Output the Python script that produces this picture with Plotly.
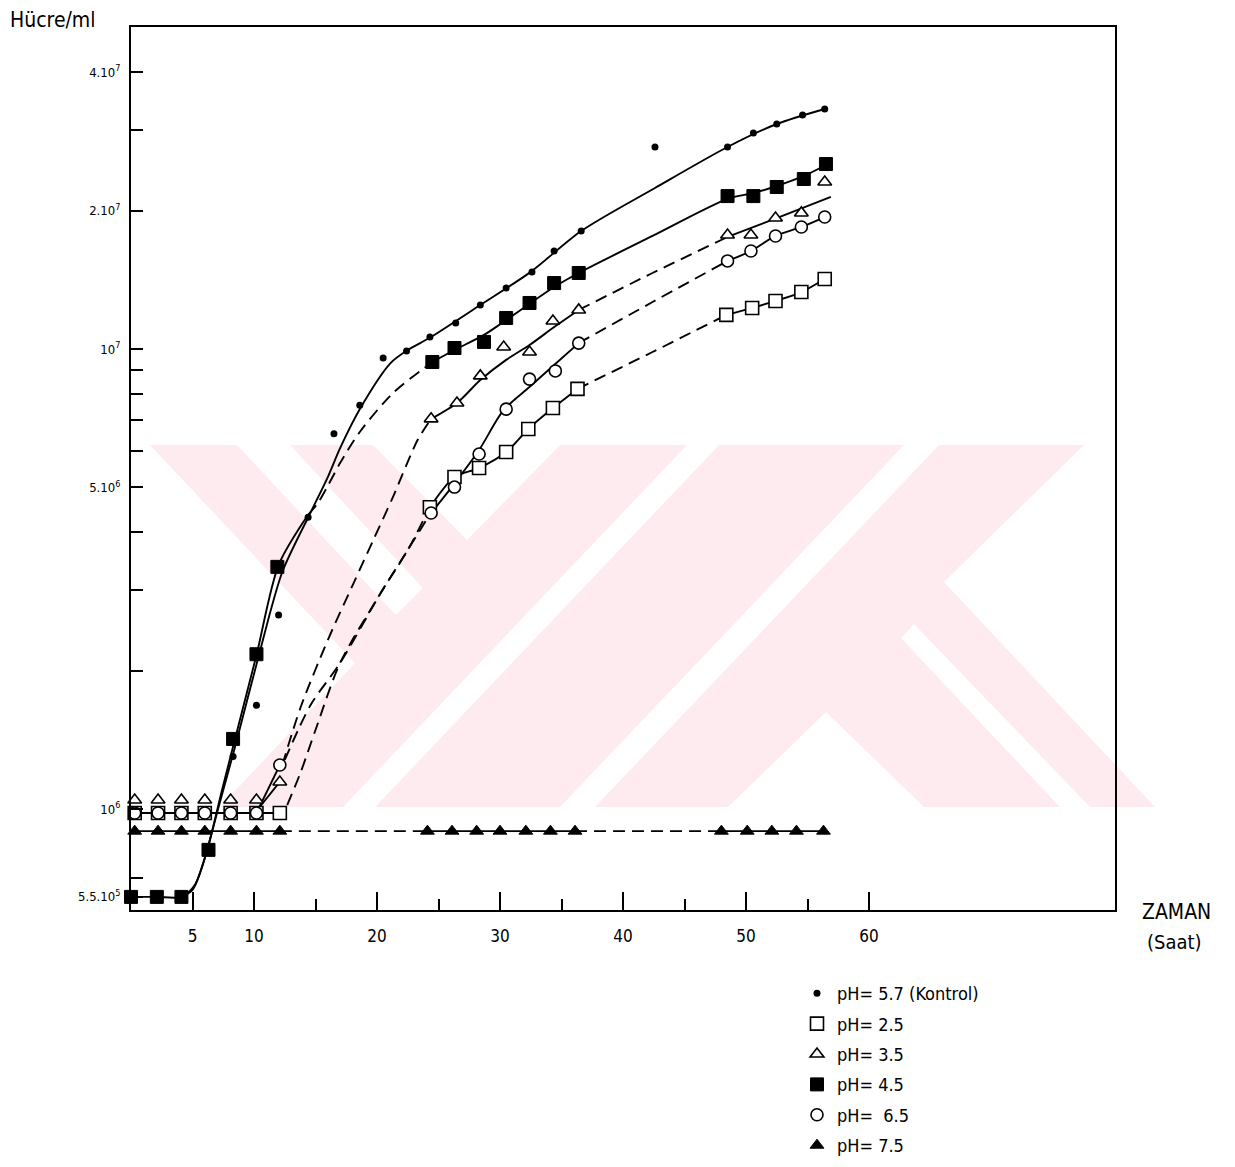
import plotly.graph_objects as go

# ---------------- data ----------------
# marker data : time (Saat) and cell count (Hücre/ml)
ph57_x = [0, 2.1, 4.1, 8.3, 10.2, 12.0, 14.4, 16.5, 18.6, 20.5, 22.4, 24.3, 26.4, 28.4,
          30.5, 32.6, 34.4, 36.6, 42.6, 48.5, 50.6, 52.5, 54.6, 56.4]
ph57_y = [6.44e5, 6.44e5, 6.44e5, 1.30e6, 1.68e6, 2.64e6, 4.31e6, 6.54e6, 7.55e6, 9.56e6,
          9.90e6, 1.062e7, 1.139e7, 1.246e7, 1.357e7, 1.471e7, 1.633e7, 1.805e7, 2.749e7,
          2.749e7, 2.948e7, 3.084e7, 3.226e7, 3.325e7]

ph25_x = [0.3, 2.2, 4.1, 6.0, 8.1, 10.2, 12.1, 24.3, 26.3, 28.3, 30.5, 32.3, 34.3, 36.3,
          48.4, 50.5, 52.4, 54.5, 56.4]
ph25_y = [9.8e5, 9.8e5, 9.8e5, 9.8e5, 9.8e5, 9.8e5, 9.8e5, 4.53e6, 5.27e6, 5.51e6, 5.97e6,
          6.70e6, 7.44e6, 8.19e6, 1.186e7, 1.228e7, 1.272e7, 1.330e7, 1.420e7]

ph35_x = [0.3, 2.2, 4.1, 6.0, 8.1, 10.2, 12.1, 24.4, 26.5, 28.4, 30.3, 32.4, 34.3, 36.4,
          48.5, 50.4, 52.4, 54.5, 56.4]
ph35_y = [1.046e6, 1.046e6, 1.046e6, 1.046e6, 1.046e6, 1.046e6, 1.145e6, 7.05e6, 7.63e6,
          8.74e6, 1.010e7, 9.85e6, 1.150e7, 1.216e7, 1.769e7, 1.769e7, 1.927e7, 1.976e7, 2.307e7]

ph45_x = [0, 2.1, 4.1, 6.3, 8.3, 10.2, 11.9, 24.5, 26.3, 28.7, 30.5, 32.4, 34.4, 36.4,
          48.5, 50.6, 52.5, 54.7, 56.5]
ph45_y = [6.44e5, 6.44e5, 6.44e5, 8.15e5, 1.42e6, 2.17e6, 3.36e6, 9.37e6, 1.005e7, 1.036e7,
          1.168e7, 1.259e7, 1.391e7, 1.463e7, 2.150e7, 2.150e7, 2.250e7, 2.342e7, 2.524e7]

ph65_x = [0.3, 2.2, 4.1, 6.0, 8.1, 10.2, 12.1, 24.4, 26.3, 28.3, 30.5, 32.4, 34.5, 36.4,
          48.5, 50.4, 52.4, 54.5, 56.4]
ph65_y = [9.8e5, 9.8e5, 9.8e5, 9.8e5, 9.8e5, 9.8e5, 1.246e6, 4.40e6, 5.01e6, 5.91e6, 7.40e6,
          8.60e6, 8.96e6, 1.030e7, 1.554e7, 1.633e7, 1.761e7, 1.842e7, 1.936e7]

ph75_x = [0.3, 2.2, 4.1, 6.0, 8.1, 10.2, 12.1, 24.1, 26.1, 28.1, 30.0, 32.1, 34.1, 36.1,
          48.0, 50.1, 52.1, 54.1, 56.3]
ph75_y = [8.95e5] * 19

# hand-drawn fitted curves (solid / dashed pieces)
fit57_x = [4.1, 5.0, 5.9, 7.1, 8.5, 10.4, 12.3, 14.5, 16.0, 17.0, 18.7, 21.1, 22.5, 24.4,
           28.4, 32.5, 36.6, 42.6, 48.5, 52.5, 56.4]
fit57_y = [6.44e5, 6.67e5, 7.67e5, 1.005e6, 1.378e6, 2.161e6, 3.275e6, 4.356e6, 5.268e6,
           6.09e6, 7.48e6, 9.32e6, 9.95e6, 1.062e7, 1.246e7, 1.471e7, 1.805e7, 2.239e7,
           2.749e7, 3.084e7, 3.325e7]

fit45_s1_x = [0, 2.1, 4.1, 5.2, 6.2, 7.4, 8.4, 10.2, 12.0, 14.4]
fit45_s1_y = [6.44e5, 6.44e5, 6.44e5, 6.84e5, 8.15e5, 1.10e6, 1.40e6, 2.16e6, 3.39e6, 4.36e6]
fit45_d1_x = [14.4, 15.2, 16.0, 17.0, 18.6, 21.3, 24.5]
fit45_d1_y = [4.36e6, 4.63e6, 5.04e6, 5.65e6, 6.60e6, 8.02e6, 9.37e6]
fit45_s2_x = [24.5, 26.3, 28.7, 30.5, 32.5, 34.4, 36.4, 42.4, 48.5, 50.6, 52.5, 54.7, 56.5]
fit45_s2_y = [9.37e6, 9.95e6, 1.073e7, 1.156e7, 1.259e7, 1.364e7, 1.463e7, 1.761e7,
              2.12e7, 2.183e7, 2.261e7, 2.378e7, 2.512e7]

fit35_s1_x = [10.2, 12.1]
fit35_s1_y = [9.9e5, 1.145e6]
fit35_d1_x = [12.3, 13.8, 16.0, 18.1, 19.7, 21.3, 23.3, 24.4]
fit35_d1_y = [1.246e6, 1.666e6, 2.330e6, 3.099e6, 3.844e6, 4.768e6, 6.34e6, 7.045e6]
fit35_s2_x = [24.4, 26.5, 28.4, 30.5, 32.4, 34.4, 36.4]
fit35_s2_y = [7.045e6, 7.63e6, 8.56e6, 9.47e6, 1.020e7, 1.116e7, 1.216e7]
fit35_d2_x = [36.4, 42.4, 48.5]
fit35_d2_y = [1.216e7, 1.463e7, 1.752e7]
fit35_s3_x = [48.5, 52.7, 56.9]
fit35_s3_y = [1.752e7, 1.936e7, 2.141e7]

fit65_s1_x = [10.2, 12.1]
fit65_s1_y = [9.8e5, 1.246e6]
fit65_d1_x = [12.5, 14.6, 17.0, 20.3, 22.5, 24.4]
fit65_d1_y = [1.278e6, 1.683e6, 2.077e6, 2.948e6, 3.656e6, 4.42e6]
fit65_s2_x = [24.4, 26.2, 28.3, 30.3, 32.4, 34.4, 36.4]
fit65_s2_y = [4.40e6, 5.06e6, 6.03e6, 7.37e6, 8.27e6, 9.23e6, 1.030e7]
fit65_d2_x = [36.4, 42.4, 48.5]
fit65_d2_y = [1.030e7, 1.265e7, 1.554e7]
fit65_s3_x = [48.5, 50.4, 52.4, 54.5, 56.4]
fit65_s3_y = [1.554e7, 1.633e7, 1.761e7, 1.842e7, 1.936e7]

fit25_s1_x = [0.3, 12.1]
fit25_s1_y = [9.8e5, 9.8e5]
fit25_d1_x = [12.7, 13.8, 15.0, 17.0, 20.3, 22.5, 24.3]
fit25_d1_y = [1.020e6, 1.203e6, 1.485e6, 2.077e6, 2.948e6, 3.656e6, 4.534e6]
fit25_s2_x = [24.3, 26.3, 28.3, 30.5, 32.3, 34.3, 36.3]
fit25_s2_y = [4.53e6, 5.27e6, 5.51e6, 5.97e6, 6.70e6, 7.44e6, 8.19e6]
fit25_d2_x = [36.3, 42.4, 48.4]
fit25_d2_y = [8.19e6, 9.85e6, 1.186e7]
fit25_s3_x = [48.4, 50.5, 52.4, 54.5, 56.4]
fit25_s3_y = [1.186e7, 1.228e7, 1.272e7, 1.330e7, 1.420e7]

fit75_x = [[0.3, 12.1], [12.1, 24.1], [24.1, 36.1], [36.1, 48.0], [48.0, 56.3]]
fit75_y = [[8.95e5, 8.95e5]] * 5

# axis ticks
x_tickvals = [5, 10, 20, 30, 40, 50, 60]
x_ticktext = ["5", "10", "20", "30", "40", "50", "60"]
x_minor = [15, 25, 35, 45, 55]
y_tickvals = [4e7, 2e7, 1e7, 5e6, 1e6, 6.44e5]
y_ticktext = ["4.10<sup>7</sup>", "2.10<sup>7</sup>", "10<sup>7</sup>",
              "5.10<sup>6</sup>", "10<sup>6</sup>", "5.5.10<sup>5</sup>"]
y_minor = [3e7, 9e6, 8e6, 7e6, 6e6, 4e6, 3e6, 2e6, 7.08e5]

legend_names = ["pH= 5.7 (Kontrol)", "pH= 2.5", "pH= 3.5", "pH= 4.5", "pH=  6.5", "pH= 7.5"]

# ---------------- figure ----------------
FONT = "DejaVu Sans Condensed, DejaVu Sans, sans-serif"
DASH = "12px,7px"
OFF = 8                      # page body margin of the html page
W, H = 1235 - OFF, 1167 - OFF
L, R, T, B = 131 - OFF, 120, 27 - OFF, 257
PW, PH = W - L - R, H - T - B

fig = go.Figure()


def add_line(x, y, dash="solid"):
    fig.add_trace(go.Scatter(
        x=x, y=y, mode="lines", showlegend=False, hoverinfo="skip", cliponaxis=False,
        line=dict(color="black", width=1.9, dash=dash, shape="spline", smoothing=0.8)))


add_line(fit25_s1_x, fit25_s1_y)
add_line(fit25_d1_x, fit25_d1_y, DASH)
add_line(fit25_s2_x, fit25_s2_y)
add_line(fit25_d2_x, fit25_d2_y, DASH)
add_line(fit25_s3_x, fit25_s3_y)

add_line(fit65_s1_x, fit65_s1_y)
add_line(fit65_d1_x, fit65_d1_y, DASH)
add_line(fit65_s2_x, fit65_s2_y)
add_line(fit65_d2_x, fit65_d2_y, DASH)
add_line(fit65_s3_x, fit65_s3_y)

add_line(fit35_s1_x, fit35_s1_y)
add_line(fit35_d1_x, fit35_d1_y, DASH)
add_line(fit35_s2_x, fit35_s2_y)
add_line(fit35_d2_x, fit35_d2_y, DASH)
add_line(fit35_s3_x, fit35_s3_y)

add_line(fit45_s1_x, fit45_s1_y)
add_line(fit45_d1_x, fit45_d1_y, DASH)
add_line(fit45_s2_x, fit45_s2_y)

add_line(fit57_x, fit57_y)

for i, (xx, yy) in enumerate(zip(fit75_x, fit75_y)):
    add_line(xx, yy, DASH if i % 2 else "solid")


def add_markers(x, y, name, rank, symbol, size, fill, lw):
    fig.add_trace(go.Scatter(
        x=x, y=y, mode="markers", name=name, legendrank=rank, legendgroup=name,
        cliponaxis=False,
        marker=dict(symbol=symbol, size=size, color=fill, line=dict(color="black", width=lw))))


add_markers(ph25_x, ph25_y, legend_names[1], 2, "square", 13, "white", 1.6)
add_markers(ph65_x, ph65_y, legend_names[4], 5, "circle", 12, "white", 1.6)
add_markers(ph35_x, ph35_y, legend_names[2], 3, "triangle-up", 12, "white", 1.6)
add_markers(ph45_x, ph45_y, legend_names[3], 4, "square", 13, "black", 1)
add_markers(ph57_x, ph57_y, legend_names[0], 1, "circle", 7, "black", 0)
add_markers(ph75_x, ph75_y, legend_names[5], 6, "triangle-up", 12, "black", 1)


# ---------------- faint watermark (decoration, page pixel geometry) ----------------
def P(px, py):
    return (px - OFF - L) / PW, (T + PH - (py - OFF)) / PH


def path(pts):
    s = ""
    for i, (a, b) in enumerate(pts):
        u, v = P(a, b)
        s += ("M" if i == 0 else "L") + f"{u:.4f},{v:.4f} "
    return s + "Z"


PINK = "#fdebef"
big = [(150, 445), (1084, 445), (944, 582), (1155, 807), (220, 807), (355, 663)]
whites = [
    [(237, 445), (290, 445), (423, 588), (396, 615)],
    [(373, 445), (560, 445), (467, 540)],
    [(343, 807), (375, 807), (719, 445), (687, 445)],
    [(560, 807), (595, 807), (939, 445), (904, 445)],
    [(728, 807), (826, 712), (924, 807)],
    [(901, 638), (914, 624), (1090, 807), (1060, 807)],
]
shapes = [dict(type="path", xref="paper", yref="paper", path=path(big), fillcolor=PINK,
               line=dict(width=0), layer="below")]
for wpts in whites:
    shapes.append(dict(type="path", xref="paper", yref="paper", path=path(wpts),
                       fillcolor="white", line=dict(width=0), layer="below"))

lx, ly = P(797, 975)
hx, hy = P(8, 20)
zx, zy = P(1176, 912)
sx, sy = P(1174, 942)

# ---------------- layout ----------------
fig.update_layout(
    width=W, height=H, autosize=False,
    margin=dict(l=L, r=R, t=T, b=B, pad=0, autoexpand=False),
    paper_bgcolor="white", plot_bgcolor="white",
    font=dict(family=FONT, color="black"),
    shapes=shapes,
    xaxis=dict(range=[0, 80], showgrid=False, zeroline=False, showline=True, mirror=True,
               linecolor="black", linewidth=2,
               tickmode="array", tickvals=x_tickvals, ticktext=x_ticktext,
               ticks="inside", ticklen=18, tickwidth=1.5, tickcolor="black",
               ticklabelstandoff=10, tickfont=dict(size=17, family=FONT),
               minor=dict(tickmode="array", tickvals=x_minor, ticks="inside",
                          ticklen=11, tickwidth=1.5, tickcolor="black")),
    yaxis=dict(type="log", range=[5.7804, 7.7], showgrid=False, zeroline=False,
               showline=True, mirror=True, linecolor="black", linewidth=2,
               tickmode="array", tickvals=y_tickvals, ticktext=y_ticktext,
               ticks="inside", ticklen=12, tickwidth=1.5, tickcolor="black",
               ticklabelstandoff=6, tickfont=dict(size=13, family=FONT),
               minor=dict(tickmode="array", tickvals=y_minor, ticks="inside",
                          ticklen=12, tickwidth=1.5, tickcolor="black")),
    legend=dict(x=lx, y=ly, xanchor="left", yanchor="top",
                font=dict(size=18, family=FONT), tracegroupgap=4,
                bgcolor="rgba(0,0,0,0)", itemsizing="trace"),
    showlegend=True,
    annotations=[
        dict(text="Hücre/ml", xref="paper", yref="paper", x=hx, y=hy,
             xanchor="left", yanchor="middle", showarrow=False, font=dict(size=21)),
        dict(text="ZAMAN", xref="paper", yref="paper", x=zx, y=zy,
             xanchor="center", yanchor="middle", showarrow=False, font=dict(size=21)),
        dict(text="(Saat)", xref="paper", yref="paper", x=sx, y=sy,
             xanchor="center", yanchor="middle", showarrow=False, font=dict(size=20)),
    ],
)

fig.write_html("out.html")
